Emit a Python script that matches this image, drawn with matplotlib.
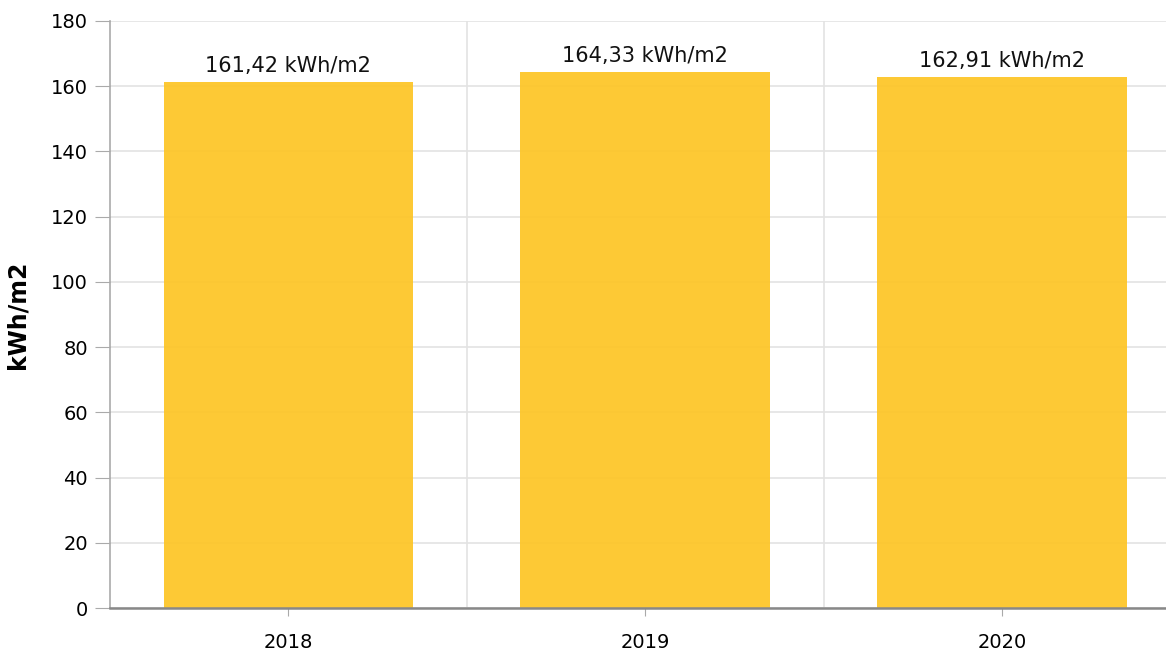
import matplotlib
matplotlib.use("Agg")
import matplotlib.pyplot as plt

years = ["2018", "2019", "2020"]
values = [161.42, 164.33, 162.91]
value_labels = ["161,42 kWh/m2", "164,33 kWh/m2", "162,91 kWh/m2"]
y_ticks = [0, 20, 40, 60, 80, 100, 120, 140, 160, 180]

plt.rcParams['font.family'] = ['DejaVu Sans']
fig = plt.figure(figsize=(11.66, 6.53), dpi=100)
ax = fig.add_axes([110/1166, 1-608/653, 1-110/1166, (608-21)/653])

x = list(range(len(years)))
ax.bar(x, values, width=0.70, color="#FDC62A", alpha=0.95, zorder=3)
for xi, v, lab in zip(x, values, value_labels):
    ax.text(xi, v + 1.8, lab, ha="center", va="bottom", fontsize=15, color="#111111", zorder=4)

ax.set_xlim(-0.5, 2.46)
ax.set_ylim(0, 180)
ax.set_yticks(y_ticks)
ax.set_yticklabels([str(t) for t in y_ticks], fontsize=14)
ax.set_xticks(x)
ax.set_xticklabels(years, fontsize=14)
ax.set_xticks([0.5, 1.5], minor=True)
ax.grid(axis="y", color="#e3e3e3", linewidth=1.2, zorder=0)
ax.grid(axis="x", which="minor", color="#e3e3e3", linewidth=1.2, zorder=0)
ax.tick_params(axis="x", which="minor", length=0)
ax.tick_params(axis="x", which="major", length=6, color="#aaaaaa", pad=12)
ax.tick_params(axis="y", length=11, color="#aaaaaa", pad=5)
for s in ["top", "right"]:
    ax.spines[s].set_visible(False)
ax.spines["left"].set_color("#aaaaaa")
ax.spines["left"].set_linewidth(1.2)
ax.spines["bottom"].set_color("#888888")
ax.spines["bottom"].set_linewidth(1.8)
ax.spines["bottom"].set_zorder(5)
ax.set_ylabel("kWh/m2", fontsize=17, fontweight="bold", labelpad=15)

fig.savefig("out.png", dpi=100)
